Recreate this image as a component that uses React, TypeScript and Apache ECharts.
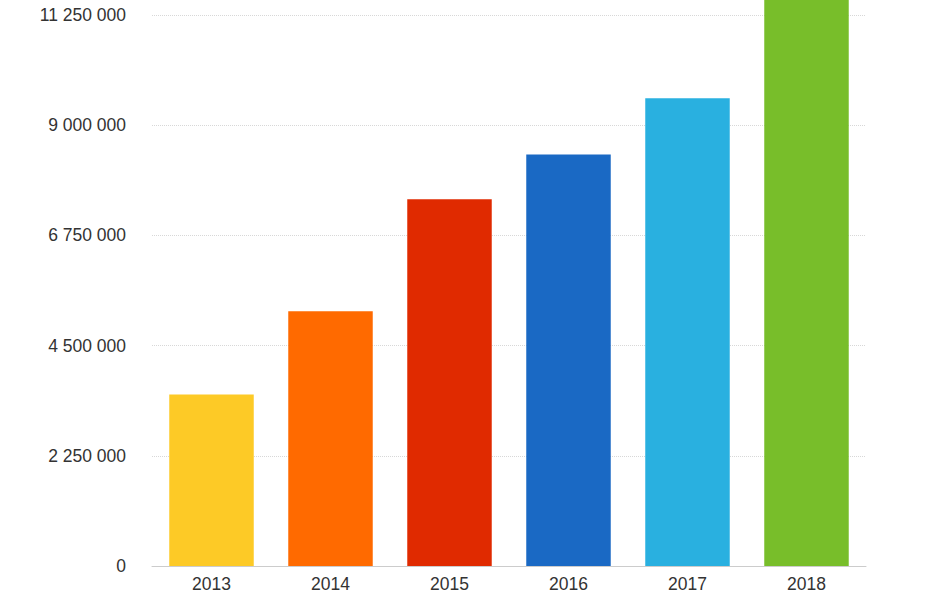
import React, { useEffect, useRef } from "react";
import * as echarts from "echarts";

const categories = ["2013", "2014", "2015", "2016", "2017", "2018"];
const values = [3500000, 5200000, 7490000, 8400000, 9550000, 11800000];
const barColors = ["#FDCA26", "#FF6A00", "#E02A00", "#1A69C4", "#29B0E0", "#78BE2A"];
const yTicks = { min: 0, max: 11250000, interval: 2250000 };

function fmt(v: number): string {
  return String(Math.round(v)).replace(/\B(?=(\d{3})+(?!\d))/g, " ");
}

export default function App() {
  const ref = useRef<HTMLDivElement>(null);
  useEffect(() => {
    if (!ref.current) return;
    const chart = echarts.init(ref.current, undefined, { renderer: "svg" });
    chart.setOption({
      animation: false,
      backgroundColor: "#ffffff",
      grid: { left: 152, right: 82, top: 15, bottom: 26, containLabel: false },
      xAxis: {
        type: "category",
        data: categories,
        axisLine: { show: true, lineStyle: { color: "#cccccc", width: 1 } },
        axisTick: { show: false },
        axisLabel: {
          color: "#333333",
          fontSize: 17.5,
          fontFamily: "Liberation Sans, Arial, sans-serif",
          margin: 9,
        },
      },
      yAxis: {
        type: "value",
        min: yTicks.min,
        max: yTicks.max,
        interval: yTicks.interval,
        axisLine: { show: false },
        axisTick: { show: false },
        splitLine: { show: true, lineStyle: { color: "#d8d8d8", type: "dotted", width: 1 } },
        axisLabel: {
          color: "#333333",
          fontSize: 17.5,
          fontFamily: "Liberation Sans, Arial, sans-serif",
          margin: 26,
          formatter: (v: number) => fmt(v),
        },
      },
      series: [
        {
          type: "bar",
          clip: false,
          barWidth: "71%",
          data: values.map((v, i) => ({ value: v, itemStyle: { color: barColors[i] } })),
        },
      ],
    });
    return () => chart.dispose();
  }, []);
  return <div ref={ref} style={{ width: 948, height: 593, position: "absolute", left: 0, top: 0 }} />;
}
